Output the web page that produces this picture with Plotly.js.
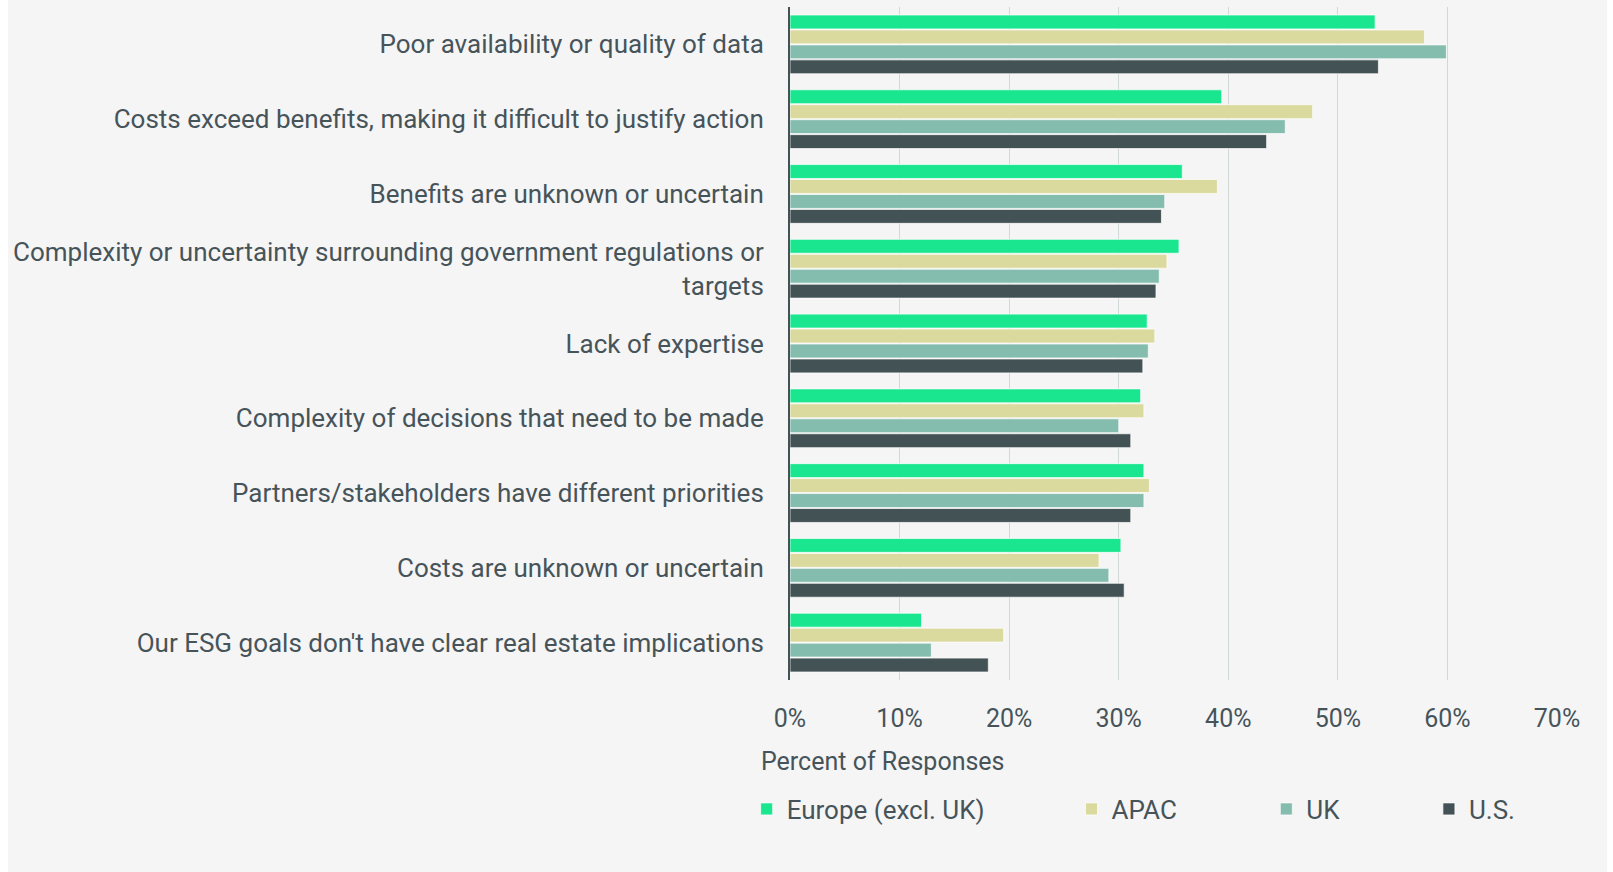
<!DOCTYPE html>
<html>
<head>
<meta charset="utf-8">
<script src="https://cdn.plot.ly/plotly-3.0.1.min.js"></script>
<style>
  html, body { margin: 0; padding: 0; background: #ffffff; }
  #chart { position: absolute; left: 8px; top: 0; width: 1599px; height: 872px; }
</style>
</head>
<body>
<div id="chart"></div>
<script>
const categories = [
  "Poor availability or quality of data",
  "Costs exceed benefits, making it difficult to justify action",
  "Benefits are unknown or uncertain",
  "Complexity or uncertainty surrounding government regulations or<br>targets",
  "Lack of expertise",
  "Complexity of decisions that need to be made",
  "Partners/stakeholders have different priorities",
  "Costs are unknown or uncertain",
  "Our ESG goals don't have clear real estate implications"
];
const seriesNames = ["Europe (excl. UK)", "APAC", "UK", "U.S."];
const europe = [53.4, 39.4, 35.8, 35.5, 32.6, 32.0, 32.3, 30.2, 12.0];
const apac   = [57.9, 47.7, 39.0, 34.4, 33.3, 32.3, 32.8, 28.2, 19.5];
const uk     = [59.9, 45.2, 34.2, 33.7, 32.7, 30.0, 32.3, 29.1, 12.9];
const us     = [53.7, 43.5, 33.9, 33.4, 32.2, 31.1, 31.1, 30.5, 18.1];
const colors = ["#19E68F", "#DAD99E", "#84BCAE", "#435254"];
const xTickVals = [0, 10, 20, 30, 40, 50, 60, 70];
const xTickText = ["0%", "10%", "20%", "30%", "40%", "50%", "60%", "70%"];

const textColor = "#46545A";
const fontFamily = "Roboto, 'Open Sans', sans-serif";
const values = [europe, apac, uk, us];
const legendNames = ["legend", "legend2", "legend3", "legend4"];
const legendX = [-0.0565, 0.3670, 0.6210, 0.8330];

const traces = values.map((v, i) => ({
  type: "bar",
  orientation: "h",
  name: seriesNames[i],
  y: categories,
  x: v,
  legend: legendNames[i],
  marker: { color: colors[i], line: { color: "rgba(255,255,255,0.7)", width: 1 } },
  hoverinfo: "x+name"
}));

const layout = {
  paper_bgcolor: "#F5F5F5",
  plot_bgcolor: "#F5F5F5",
  margin: { l: 782, r: 50, t: 7, b: 192 },
  barmode: "group",
  bargap: 0.2,
  bargroupgap: 0.07,
  font: { family: fontFamily, color: textColor, size: 25 },
  xaxis: {
    range: [0, 70],
    tickvals: xTickVals,
    ticktext: xTickText,
    showgrid: true,
    gridcolor: "#D2D8D8",
    gridwidth: 1,
    zeroline: false,
    showline: false,
    ticks: "",
    ticklabelstandoff: 21,
    tickfont: { size: 25, color: textColor }
  },
  yaxis: {
    autorange: "reversed",
    type: "category",
    showline: true,
    linecolor: "#435254",
    linewidth: 2,
    showgrid: false,
    zeroline: false,
    ticks: "",
    ticklabelstandoff: 19,
    tickfont: { size: 26, color: textColor }
  },
  annotations: [{
    text: "Percent of Responses",
    xref: "paper", yref: "paper",
    x: -0.0405, y: -0.1218,
    xanchor: "left", yanchor: "middle",
    showarrow: false,
    font: { size: 25, color: textColor }
  }],
  showlegend: true
};
legendNames.forEach((ln, i) => {
  layout[ln] = {
    orientation: "h",
    x: legendX[i], xanchor: "left",
    y: -0.1917, yanchor: "middle",
    bgcolor: "rgba(0,0,0,0)",
    borderwidth: 0,
    font: { size: 26, color: textColor }
  };
});

Plotly.newPlot("chart", traces, layout, { displayModeBar: false, staticPlot: true });
</script>
</body>
</html>
